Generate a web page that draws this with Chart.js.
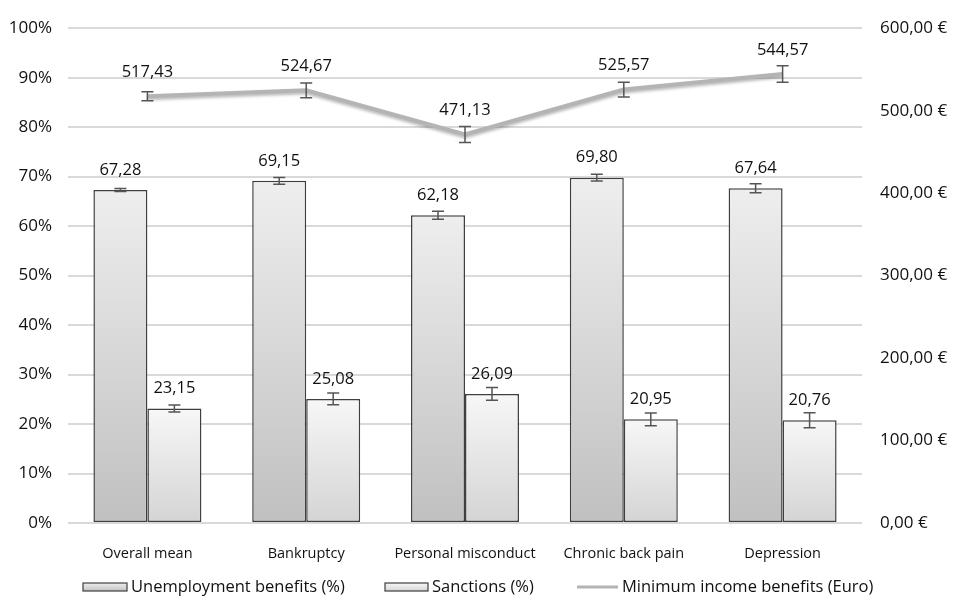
<!DOCTYPE html>
<html>
<head>
<meta charset="utf-8">
<script src="https://cdn.jsdelivr.net/npm/chart.js@4/dist/chart.umd.min.js"></script>
<style>
  html, body { margin: 0; padding: 0; background: #fff; }
  #wrap { width: 957px; height: 600px; }
</style>
</head>
<body>
<div id="wrap"><canvas id="myChart"></canvas></div>
<script>
// values
var categories = ['Overall mean', 'Bankruptcy', 'Personal misconduct', 'Chronic back pain', 'Depression'];
var unemployment = [67.28, 69.15, 62.18, 69.80, 67.64];
var unemploymentErr = [0.3, 0.7, 0.8, 0.7, 0.9];
var sanctions = [23.15, 25.08, 26.09, 20.95, 20.76];
var sanctionsErr = [0.7, 1.2, 1.3, 1.3, 1.5];
var minIncome = [517.43, 524.67, 471.13, 525.57, 544.57];
var minIncomeErr = [5.4, 9, 9.6, 9, 10];
var seriesNames = ['Unemployment benefits (%)', 'Sanctions (%)', 'Minimum income benefits (Euro)'];
var leftTicks = [0, 10, 20, 30, 40, 50, 60, 70, 80, 90, 100];
var rightTicks = [0, 100, 200, 300, 400, 500, 600];

Chart.defaults.font.family = "'Open Sans', sans-serif";
Chart.defaults.color = '#111';

function fmt(v) {
  return v.toFixed(2).replace('.', ',');
}

function barGradient(top, bottom) {
  return function(c) {
    var chart = c.chart;
    if (!chart.chartArea || c.raw === undefined) return top;
    var ys = chart.scales.y;
    var g = chart.ctx.createLinearGradient(0, ys.getPixelForValue(c.raw), 0, ys.getPixelForValue(0));
    g.addColorStop(0, top);
    g.addColorStop(1, bottom);
    return g;
  };
}

var errors = [unemploymentErr, sanctionsErr, minIncomeErr];
var labelOffset = [20, 20, 24];

var lineShadow = {
  id: 'lineShadow',
  beforeDatasetDraw: function(chart, args) {
    if (args.index != 2) return;
    var ctx = chart.ctx;
    ctx.save();
    ctx.shadowColor = 'rgba(0,0,0,0.28)';
    ctx.shadowBlur = 3;
    ctx.shadowOffsetY = 2;
  },
  afterDatasetDraw: function(chart, args) {
    if (args.index != 2) return;
    chart.ctx.restore();
  }
};

var extras = {
  id: 'extras',
  afterDatasetsDraw: function(chart) {
    var ctx = chart.ctx;
    ctx.save();
    chart.data.datasets.forEach(function(ds, i) {
      var meta = chart.getDatasetMeta(i);
      var scale = chart.scales[ds.yAxisID];
      meta.data.forEach(function(el, j) {
        var v = ds.data[j];
        var e = errors[i][j];
        var y1 = scale.getPixelForValue(v + e);
        var y2 = scale.getPixelForValue(v - e);
        ctx.strokeStyle = '#555';
        ctx.lineWidth = 1.5;
        ctx.beginPath();
        ctx.moveTo(el.x, y1); ctx.lineTo(el.x, y2);
        ctx.moveTo(el.x - 6, y1); ctx.lineTo(el.x + 6, y1);
        ctx.moveTo(el.x - 6, y2); ctx.lineTo(el.x + 6, y2);
        ctx.stroke();
        ctx.fillStyle = '#111';
        ctx.font = "16.5px 'Open Sans', sans-serif";
        ctx.textAlign = 'center';
        ctx.textBaseline = 'middle';
        ctx.fillText(fmt(v), el.x, el.y - labelOffset[i]);
      });
    });
    ctx.restore();
  },
  afterDraw: function(chart) {
    // legend
    var ctx = chart.ctx;
    ctx.save();
    ctx.font = "16.5px 'Open Sans', sans-serif";
    ctx.textBaseline = 'middle';
    ctx.textAlign = 'left';
    var y = 587;
    var items = [
      { x: 83, w: 44, fill: ['#ededed', '#c4c4c4'] },
      { x: 385, w: 43, fill: ['#f7f7f7', '#d6d6d6'] },
      { x: 577, w: 41, line: true }
    ];
    items.forEach(function(it, i) {
      if (it.line) {
        ctx.strokeStyle = '#b4b4b4';
        ctx.lineWidth = 3;
        ctx.beginPath();
        ctx.moveTo(it.x, y); ctx.lineTo(it.x + it.w, y);
        ctx.stroke();
      } else {
        var g = ctx.createLinearGradient(0, y - 4, 0, y + 4);
        g.addColorStop(0, it.fill[0]);
        g.addColorStop(1, it.fill[1]);
        ctx.fillStyle = g;
        ctx.fillRect(it.x, y - 4, it.w, 8);
        ctx.strokeStyle = '#3f3f3f';
        ctx.lineWidth = 1.2;
        ctx.strokeRect(it.x, y - 4, it.w, 8);
      }
      ctx.fillStyle = '#111';
      ctx.fillText(seriesNames[i], it.x + it.w + 4, y);
    });
    ctx.restore();
  }
};

var ctx = document.getElementById('myChart');
var myChart = new Chart(ctx, {
  data: {
    labels: categories,
    datasets: [{
      type: 'bar',
      label: seriesNames[0],
      data: unemployment,
      yAxisID: 'y',
      backgroundColor: barGradient('#eeeeee', '#c0c0c0'),
      borderColor: '#3f3f3f',
      borderWidth: 1.5,
      borderSkipped: false,
      categoryPercentage: 0.68,
      barPercentage: 1.0,
      order: 1
    }, {
      type: 'bar',
      label: seriesNames[1],
      data: sanctions,
      yAxisID: 'y',
      backgroundColor: barGradient('#f7f7f7', '#d4d4d4'),
      borderColor: '#3f3f3f',
      borderWidth: 1.5,
      borderSkipped: false,
      categoryPercentage: 0.68,
      barPercentage: 1.0,
      order: 1
    }, {
      type: 'line',
      label: seriesNames[2],
      data: minIncome,
      yAxisID: 'y1',
      borderColor: '#b4b4b4',
      borderWidth: 4,
      pointRadius: 0,
      tension: 0,
      order: 0
    }]
  },
  options: {
    responsive: true,
    maintainAspectRatio: false,
    animation: false,
    layout: { padding: { top: 22, left: 0, right: 0, bottom: 0 } },
    plugins: {
      legend: { display: false },
      tooltip: { enabled: false }
    },
    scales: {
      x: {
        grid: { display: false },
        border: { display: false },
        ticks: { font: { size: 14.5 }, padding: 14, maxRotation: 0 },
        afterFit: function(s) { s.height = 77; }
      },
      y: {
        position: 'left',
        min: 0,
        max: 100,
        afterBuildTicks: function(s) { s.ticks = leftTicks.map(function(v) { return { value: v }; }); },
        ticks: { font: { size: 17 }, padding: 16, callback: function(v) { return v + '%'; } },
        grid: { color: '#d9d9d9', lineWidth: 2, drawTicks: false },
        border: { display: false },
        afterFit: function(s) { s.width = 68; }
      },
      y1: {
        position: 'right',
        min: 0,
        max: 600,
        afterBuildTicks: function(s) { s.ticks = rightTicks.map(function(v) { return { value: v }; }); },
        ticks: { font: { size: 17 }, padding: 18, callback: function(v) { return fmt(v) + ' €'; } },
        grid: { display: false, drawTicks: false },
        border: { display: false },
        afterFit: function(s) { s.width = 95; }
      }
    }
  },
  plugins: [lineShadow, extras]
});
</script>
</body>
</html>
